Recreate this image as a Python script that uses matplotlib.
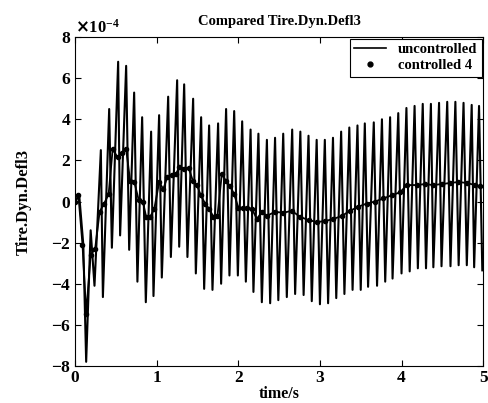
import numpy as np
import matplotlib
matplotlib.use("Agg")
import matplotlib.pyplot as plt
from matplotlib.lines import Line2D
from matplotlib.ticker import ScalarFormatter

plt.rcParams['font.family'] = ['Liberation Serif', 'DejaVu Serif']
plt.rcParams['font.weight'] = 'bold'
plt.rcParams['axes.unicode_minus'] = False

# uncontrolled response (units of 1e-4), start-up part then peaks / troughs
t_start = [0.0, 0.05, 0.10, 0.135, 0.19, 0.237]
y_start = [0.0, 0.3, -2.1, -7.8, -1.4, -4.1]

t_peak = [0.315, 0.417, 0.527, 0.625, 0.723, 0.821, 0.931, 1.029, 1.14, 1.25,
          1.336, 1.446, 1.544, 1.642, 1.752, 1.85, 1.949, 2.047, 2.15, 2.246,
          2.35, 2.45, 2.55, 2.66, 2.76, 2.86, 2.96, 3.06, 3.16, 3.26,
          3.36, 3.46, 3.55, 3.66, 3.76, 3.86, 3.96, 4.06, 4.16, 4.26,
          4.36, 4.46, 4.56, 4.66, 4.76, 4.86, 4.95]
y_peak = [2.5, 4.5, 6.8, 6.6, 5.3, 4.1, 3.4, 4.2, 5.1, 5.9,
          5.7, 5.0, 4.1, 3.7, 3.8, 4.5, 4.4, 3.9, 3.5, 3.3,
          3.0, 3.1, 3.3, 3.5, 3.4, 3.2, 3.0, 3.0, 3.1, 3.4,
          3.6, 3.7, 3.8, 3.85, 4.0, 4.1, 4.3, 4.55, 4.65, 4.75,
          4.75, 4.8, 4.85, 4.85, 4.8, 4.7, 4.65]

t_trough = [0.34, 0.45, 0.551, 0.662, 0.763, 0.866, 0.96, 1.062, 1.173, 1.275,
            1.376, 1.479, 1.581, 1.683, 1.789, 1.891, 1.994, 2.092, 2.185, 2.288,
            2.39, 2.49, 2.594, 2.696, 2.80, 2.90, 3.00, 3.10, 3.20, 3.30,
            3.40, 3.50, 3.59, 3.70, 3.80, 3.89, 4.00, 4.10, 4.20, 4.30,
            4.39, 4.49, 4.60, 4.70, 4.80, 4.89, 4.99]
y_trough = [-4.65, -2.25, -1.65, -2.35, -3.9, -4.9, -4.6, -3.7, -2.7, -2.2,
            -2.7, -3.5, -4.25, -4.3, -4.0, -3.6, -3.6, -3.9, -4.4, -4.9,
            -4.95, -4.8, -4.65, -4.5, -4.55, -4.85, -5.0, -4.95, -4.7, -4.5,
            -4.3, -4.3, -4.15, -4.1, -3.9, -3.75, -3.5, -3.4, -3.25, -3.25,
            -3.2, -3.15, -3.15, -3.1, -3.1, -3.2, -3.35]

# controlled 4 (units of 1e-4)
t_ctrl = [0.0, 0.04, 0.09, 0.135, 0.19, 0.245, 0.30, 0.355, 0.41, 0.46,
          0.52, 0.57, 0.625, 0.674, 0.725, 0.78, 0.83, 0.87, 0.92, 0.97,
          1.03, 1.08, 1.13, 1.184, 1.238, 1.278, 1.336, 1.39, 1.443, 1.492,
          1.54, 1.593, 1.642, 1.695, 1.744, 1.798, 1.847, 1.90, 1.949, 2.0,
          2.055, 2.104, 2.166, 2.227, 2.29, 2.35, 2.45, 2.55, 2.655, 2.757,
          2.86, 2.96, 3.064, 3.166, 3.268, 3.37, 3.472, 3.574, 3.676, 3.778,
          3.88, 3.983, 4.065, 4.187, 4.289, 4.39, 4.494, 4.596, 4.698, 4.8,
          4.902, 4.963]
y_ctrl = [0.0, 0.3, -2.1, -5.45, -2.6, -2.3, -0.5, -0.1, 0.35, 2.55,
          2.15, 2.35, 2.55, 1.0, 0.95, 0.05, 0.0, -0.75, -0.75, -0.35,
          0.95, 0.6, 1.2, 1.3, 1.35, 1.7, 1.6, 1.65, 1.0, 0.8,
          0.3, -0.1, -0.35, -0.75, -0.7, 1.35, 1.0, 0.75, 0.35, -0.3,
          -0.3, -0.3, -0.35, -0.85, -0.5, -0.7, -0.5, -0.55, -0.45, -0.75,
          -0.9, -1.0, -0.95, -0.85, -0.7, -0.45, -0.25, -0.1, 0.0, 0.15,
          0.3, 0.45, 0.8, 0.8, 0.85, 0.8, 0.85, 0.9, 0.95, 0.9,
          0.8, 0.75]

t_unc = np.array(t_start + t_peak + t_trough)
y_unc = np.array(y_start + y_peak + y_trough)
order = np.argsort(t_unc)
t_unc, y_unc = t_unc[order], y_unc[order]

fig = plt.figure(figsize=(4.88, 4.03), dpi=100)
ax = fig.add_axes([0.154, 0.092, 0.836, 0.816])

ax.plot(t_unc, y_unc * 1e-4, color='black', lw=1.5)
ax.plot(t_ctrl, np.array(y_ctrl) * 1e-4, color='black', lw=1.3, marker='.',
        ms=6, linestyle='-')

ax.set_xlim(0, 5)
ax.set_ylim(-8e-4, 8e-4)
ax.set_xticks([0, 1, 2, 3, 4, 5])
ax.set_yticks(np.arange(-8, 9, 2) * 1e-4)
fmt = ScalarFormatter(useMathText=True)
fmt.set_powerlimits((0, 0))
ax.yaxis.set_major_formatter(fmt)
ax.yaxis.get_offset_text().set_fontsize(12)
ax.tick_params(direction='in', top=True, right=True, labelsize=12.5, length=4, pad=3)

ax.set_title('Compared Tire.Dyn.Defl3', fontsize=10.5, fontweight='bold', pad=9)
ax.set_xlabel('time/s', fontsize=11.5, fontweight='bold', labelpad=0)
ax.set_ylabel('Tire.Dyn.Defl3', fontsize=12, fontweight='bold', labelpad=14)

handles = [Line2D([], [], color='black', lw=1.2),
           Line2D([], [], color='black', ls='none', marker='.', ms=7)]
leg = ax.legend(handles, ['uncontrolled', 'controlled 4'], loc='upper right',
                fontsize=10.5, fancybox=False, edgecolor='black',
                handlelength=2.2, borderaxespad=0.1, borderpad=0.3, labelspacing=0.2,
                framealpha=1)
leg.get_frame().set_linewidth(0.8)

fig.savefig('out.png', dpi=100)
